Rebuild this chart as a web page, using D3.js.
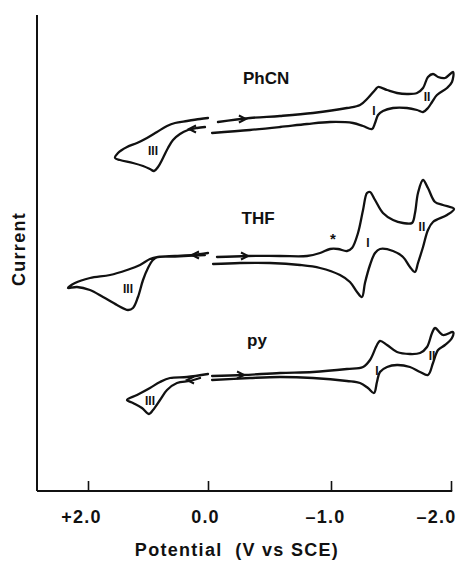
<!DOCTYPE html>
<html>
<head>
<meta charset="utf-8">
<script src="https://cdn.jsdelivr.net/npm/d3@7"></script>
<style>
    body { margin: 0; background: #fff; }
    text { font-family: "Liberation Sans", Arial, sans-serif; font-weight: bold; fill: #111; }
</style>
</head>
<body>
<div id="chart-area"></div>
<script>

// potential (V vs SCE), current (arbitrary units, relative to each trace's baseline)
const phcnOx = [
    [0.05, -0.5], [0.183, -0.6], [0.333, -0.8], [0.467, -1.2], [0.583, -1.8], [0.667, -2.6],
    [0.75, -3.6], [0.833, -4.5], [0.9, -4.9], [0.967, -4.7], [1.083, -4.4], [1.25, -4.1],
    [1.467, -3.8], [1.55, -3.6], [1.5, -3.1], [1.35, -2.5], [1.183, -2.1], [1.017, -1.6],
    [0.85, -1.0], [0.683, -0.4], [0.55, -0.1], [0.35, 0.1], [0.133, 0.3], [0.0, 0.4]
]
const phcnRed = [
    [-0.081, 0], [-0.341, 0.4], [-0.585, 0.6], [-0.854, 0.9], [-1.133, 1.4], [-1.242, 1.7],
    [-1.308, 2.4], [-1.367, 3.2], [-1.392, 3.5], [-1.467, 3.2], [-1.55, 2.9], [-1.633, 2.8],
    [-1.717, 2.9], [-1.767, 3.4], [-1.808, 4.5], [-1.85, 4.8], [-1.892, 4.5], [-1.95, 4.4],
    [-2.017, 5.0], [-2.008, 4.0], [-1.967, 3.4], [-1.883, 2.7], [-1.842, 2.0], [-1.808, 1.4],
    [-1.767, 1.0], [-1.717, 1.2], [-1.633, 1.4], [-1.517, 1.4], [-1.433, 1.1], [-1.392, 0.7],
    [-1.367, -0.1], [-1.342, -0.7], [-1.267, -0.4], [-1.183, -0.1], [-0.992, 0], [-0.805, -0.2],
    [-0.585, -0.5], [-0.341, -0.8], [-0.033, -1.1]
]
const thfOx = [
    [0.0, 0.3], [0.25, 0.1], [0.55, 0], [0.833, -0.1], [0.967, -0.3], [1.133, -0.9],
    [1.35, -1.4], [1.633, -1.9], [1.967, -2.2], [2.217, -2.7], [2.333, -3.2], [2.183, -3.1],
    [1.967, -3.4], [1.75, -4.1], [1.517, -4.9], [1.333, -5.4], [1.25, -5.2], [1.167, -4.1],
    [1.083, -2.4], [1.0, -1.2], [0.917, -0.4], [0.833, -0.1], [0.55, -0.05], [0.05, 0.1]
]
const thfRed = [
    [-0.073, -0.1], [-0.317, 0], [-0.585, 0], [-0.805, 0], [-0.911, 0.3], [-0.992, 0.7],
    [-1.058, 0.7], [-1.133, 0.5], [-1.175, 0.8], [-1.225, 2.3], [-1.267, 4.6], [-1.3, 6.3],
    [-1.325, 6.4], [-1.367, 5.6], [-1.433, 4.3], [-1.517, 3.6], [-1.6, 3.3], [-1.675, 3.3],
    [-1.7, 4.3], [-1.725, 6.3], [-1.767, 7.6], [-1.808, 6.8], [-1.867, 5.4], [-1.933, 5.1],
    [-2.025, 4.7], [-1.967, 4.1], [-1.85, 3.4], [-1.808, 2.6], [-1.767, 0.9], [-1.725, -0.7],
    [-1.7, -1.6], [-1.658, -1.1], [-1.6, -0.1], [-1.517, 0.5], [-1.408, 0.7], [-1.367, 0.3],
    [-1.325, -0.9], [-1.283, -2.7], [-1.258, -4.1], [-1.217, -3.6], [-1.158, -2.6], [-1.075, -1.9],
    [-0.911, -1.2], [-0.748, -0.9], [-0.504, -0.7], [-0.26, -0.7], [-0.041, -0.8]
]
const pyOx = [
    [0.133, -0.3], [0.3, -0.6], [0.517, -0.8], [0.683, -1.5], [0.8, -2.5], [0.917, -3.5],
    [0.983, -3.9], [1.1, -3.3], [1.25, -2.8], [1.35, -2.5], [1.183, -2.0], [0.967, -1.3],
    [0.8, -0.7], [0.633, -0.3], [0.35, -0.2], [0.0, 0.1]
]
const pyRed = [
    [-0.033, -0.1], [-0.285, 0], [-0.585, 0.2], [-0.854, 0.3], [-1.133, 0.6], [-1.267, 0.8],
    [-1.325, 1.5], [-1.383, 3.0], [-1.408, 3.4], [-1.467, 3.0], [-1.55, 2.3], [-1.658, 2.1],
    [-1.742, 2.2], [-1.8, 2.8], [-1.842, 4.2], [-1.867, 4.7], [-1.933, 4.0], [-2.017, 4.3],
    [-2.008, 3.7], [-1.95, 3.0], [-1.892, 2.5], [-1.85, 1.2], [-1.808, 0], [-1.742, 0.3],
    [-1.658, 0.8], [-1.55, 1.0], [-1.467, 0.8], [-1.408, 0.3], [-1.383, -0.7], [-1.358, -1.8],
    [-1.308, -1.3], [-1.242, -0.8], [-1.133, -0.6], [-0.854, -0.3], [-0.585, -0.2], [-0.341, -0.3],
    [-0.033, -0.5]
]

const solvents = ['PhCN', 'THF', 'py']
const traceOffsets = [35.3, 21.9, 10.0]
const traces = [[phcnOx, phcnRed], [thfOx, thfRed], [pyOx, pyRed]]

// sweep direction arrows: [potential, current, direction]
const arrows = [
    [[-0.30, 0.3, 1], [0.30, -0.7, -1]],
    [[-0.317, 0, 1], [0.25, 0.1, -1]],
    [[-0.285, 0, 1], [0.333, -0.5, -1]]
]

// wave labels: [text, potential, current]
const waveLabels = [
    [['III', 0.917, -3.3], ['I', -1.358, 0.7], ['II', -1.8, 2.1]],
    [['III', 1.333, -3.7], ['I', -1.308, 0.9], ['II', -1.758, 2.5], ['*', -1.017, 1.2]],
    [['III', 0.967, -3.0], ['I', -1.383, 0], ['II', -1.842, 1.5]]
]
const nameLabels = [[-0.472, 3.8], [-0.407, 3.2], [-0.398, 2.9]]

const xTicks = [2.0, 0.0, -1.0, -2.0]
const xTickLabels = ['+2.0', '0.0', '\u20131.0', '\u20132.0']

const totalWidth = 468
const totalHeight = 566

const svg = d3.select("#chart-area")
    .append("svg")
    .attr("width", totalWidth)
    .attr("height", totalHeight)

// broken potential axis: ticks evenly spaced
const xScale = d3.scaleLinear()
    .domain(xTicks)
    .range([88, 208, 331, 451])

const yScale = d3.scaleLinear()
    .domain([-1.5, 46])
    .range([490, 15])

const xLeft = xScale(2.85)
const xRight = xScale(-2.01)
const yBottom = yScale(-1.6)

// axes
svg.append("line")
    .attr("x1", xLeft).attr("x2", xLeft)
    .attr("y1", yScale(46)).attr("y2", yBottom)
    .attr("stroke", "#111")
    .attr("stroke-width", 2)

svg.append("line")
    .attr("x1", xLeft).attr("x2", xRight)
    .attr("y1", yBottom).attr("y2", yBottom)
    .attr("stroke", "#111")
    .attr("stroke-width", 2)

const xAxis = svg.append("g")
    .attr("class", "x axis")
    .attr("transform", `translate(0, ${yBottom})`)
    .call(d3.axisBottom(xScale)
        .tickValues(xTicks)
        .tickSizeInner(-10)
        .tickSizeOuter(0)
        .tickPadding(19)
        .tickFormat((d, i) => xTickLabels[i]))

xAxis.select(".domain").remove()
xAxis.selectAll(".tick line")
    .attr("stroke", "#111")
    .attr("stroke-width", 1.6)
xAxis.selectAll("text")
    .attr("font-size", "18px")
    .attr("font-family", "Liberation Sans, Arial, sans-serif")
    .attr("font-weight", "bold")
    .attr("letter-spacing", "1.2px")
    .attr("fill", "#111")
    // labels sit a little left of their ticks in the original
    .attr("dx", (d, i) => [-7, -3, -6, -15][i])

svg.append("text")
    .attr("x", 237)
    .attr("y", 556)
    .attr("font-size", "18px")
    .attr("letter-spacing", "1.3px")
    .attr("text-anchor", "middle")
    .attr("xml:space", "preserve")
    .text("Potential  (V vs SCE)")

svg.append("text")
    .attr("transform", "translate(25, 249) rotate(-90)")
    .attr("font-size", "18px")
    .attr("letter-spacing", "1.3px")
    .attr("text-anchor", "middle")
    .text("Current")

// voltammograms
traces.forEach((parts, k) => {
    const line = d3.line()
        .x(d => xScale(d[0]))
        .y(d => yScale(d[1] + traceOffsets[k]))
        .curve(d3.curveCatmullRom.alpha(0.5))

    parts.forEach(part => {
        svg.append("path")
            .attr("d", line(part))
            .attr("fill", "none")
            .attr("stroke", "#111")
            .attr("stroke-width", 2.3)
            .attr("stroke-linejoin", "round")
            .attr("stroke-linecap", "round")
    })

    arrows[k].forEach(a => {
        svg.append("path")
            .attr("transform", `translate(${xScale(a[0])}, ${yScale(a[1] + traceOffsets[k])}) scale(${a[2]}, 1)`)
            .attr("d", "M-6,-3.5 L1,0 L-6,3.5")
            .attr("fill", "none")
            .attr("stroke", "#111")
            .attr("stroke-width", 2)
    })

    svg.append("text")
        .attr("x", xScale(nameLabels[k][0]))
        .attr("y", yScale(nameLabels[k][1] + traceOffsets[k]))
        .attr("font-size", "17px")
        .attr("text-anchor", "middle")
        .text(solvents[k])

    waveLabels[k].forEach(w => {
        svg.append("text")
            .attr("x", xScale(w[1]))
            .attr("y", yScale(w[2] + traceOffsets[k]))
            .attr("font-size", w[0] === '*' ? "15px" : "12px")
            .attr("text-anchor", "middle")
            .text(w[0])
    })
})

</script>
</body>
</html>
